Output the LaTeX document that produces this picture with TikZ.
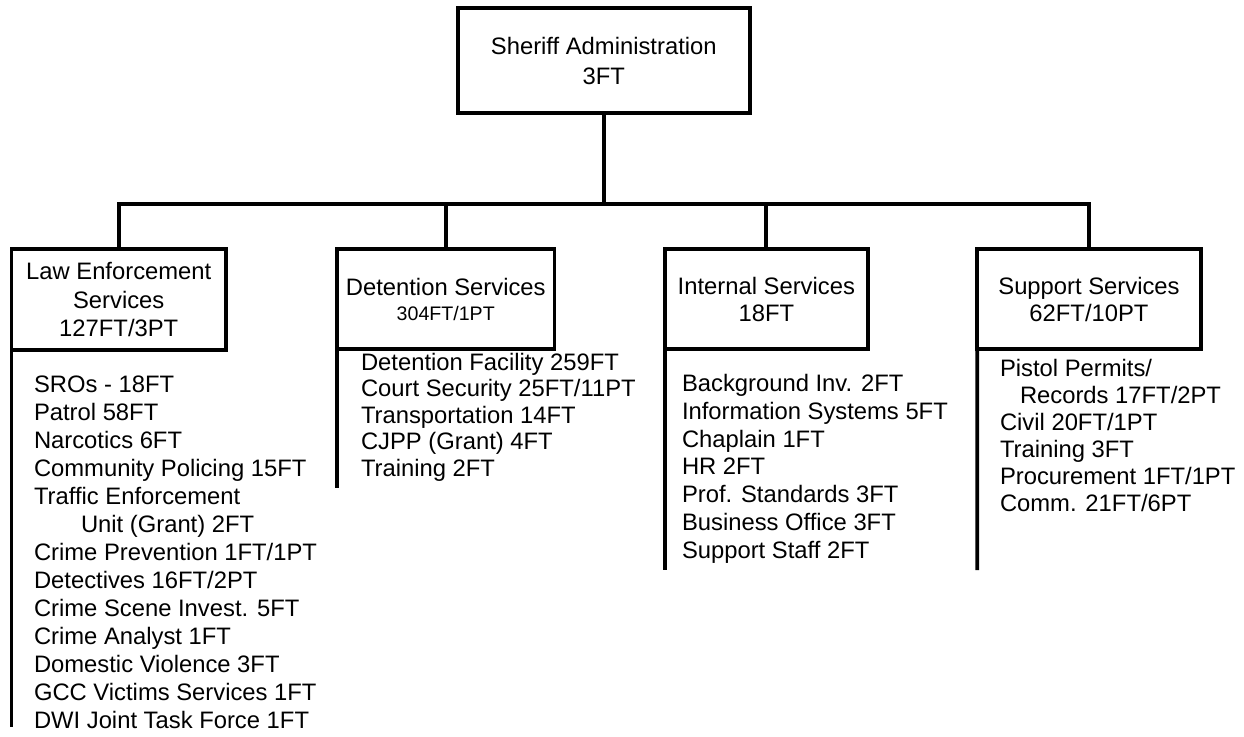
\documentclass[tikz,border=0pt]{standalone}
\usepackage{fontspec}
\setmainfont{Liberation Sans}
\begin{document}
\begin{tikzpicture}[x=0.5pt,y=-0.5pt,
  box/.style={draw, line width=1.9pt, inner sep=0pt, outer sep=0pt, align=center},
  list/.style={anchor=north west, inner sep=0pt, outer sep=0pt, align=left},
  link/.style={line width=1.9pt}]
\useasboundingbox (0,0) rectangle (1244,736);

% boxes
\node[box, minimum width=145.9pt, minimum height=52.5pt, font=\fontsize{11.9}{15}\selectfont]
  (sheriff) at (603.8,60.5) {Sheriff Administration\\3FT};
\node[box, minimum width=107.25pt, minimum height=50.5pt, font=\fontsize{11.9}{14.25}\selectfont]
  (law) at (118.75,299.5) {Law Enforcement\\Services\\127FT/3PT};
\node[box, minimum width=108.75pt, minimum height=50pt, font=\fontsize{11.9}{12.6}\selectfont]
  (det) at (445.75,299.2) {Detention Services\\{\fontsize{9.8}{12.6}\selectfont 304FT/1PT}};
\node[box, minimum width=101.35pt, minimum height=50pt, font=\fontsize{11.9}{13.5}\selectfont]
  (int) at (766.35,299.2) {Internal Services\\18FT};
\node[box, minimum width=111.7pt, minimum height=50pt, font=\fontsize{11.9}{13.5}\selectfont]
  (sup) at (1089,299.2) {Support Services\\62FT/10PT};

% lists
\node[list, font=\fontsize{11.9}{14}\selectfont] (lawlist) at (34,375.5) {%
SROs - 18FT\\
Patrol 58FT\\
Narcotics 6FT\\
Community Policing 15FT\\
Traffic Enforcement\\
\hspace*{23.5pt}Unit (Grant) 2FT\\
Crime Prevention 1FT/1PT\\
Detectives 16FT/2PT\\
Crime Scene Invest. 5FT\\
Crime Analyst 1FT\\
Domestic Violence 3FT\\
GCC Victims Services 1FT\\
DWI Joint Task Force 1FT};

\node[list, font=\fontsize{11.9}{13.25}\selectfont] (detlist) at (361,353.2) {%
Detention Facility 259FT\\
Court Security 25FT/11PT\\
Transportation 14FT\\
CJPP (Grant) 4FT\\
Training 2FT};

\node[list, font=\fontsize{11.9}{13.9}\selectfont] (intlist) at (682,374.2) {%
Background Inv. 2FT\\
Information Systems 5FT\\
Chaplain 1FT\\
HR 2FT\\
Prof. Standards 3FT\\
Business Office 3FT\\
Support Staff 2FT};

\node[list, font=\fontsize{11.9}{13.5}\selectfont] (suplist) at (1000,359.2) {%
Pistol Permits/\\
\hspace*{10pt}Records 17FT/2PT\\
Civil 20FT/1PT\\
Training 3FT\\
Procurement 1FT/1PT\\
Comm. 21FT/6PT};

% connectors
\coordinate (bar) at (603.8,204);
\draw[link] (sheriff.south) -- (bar);
\draw[link] (bar) -| (law.north);
\draw[link] (bar) -| (det.north);
\draw[link] (bar) -| (int.north);
\draw[link] (bar) -| (sup.north);

\coordinate (lawend) at (11.5,727);
\coordinate (detend) at (337,488);
\coordinate (intend) at (665,570);
\coordinate (supend) at (977.3,570);
\draw[link] (law.south west) -- (lawend);
\draw[link] (det.south west) -- (detend);
\draw[link] (int.south west) -- (intend);
\draw[link] (sup.south west) -- (supend);
\end{tikzpicture}
\end{document}
